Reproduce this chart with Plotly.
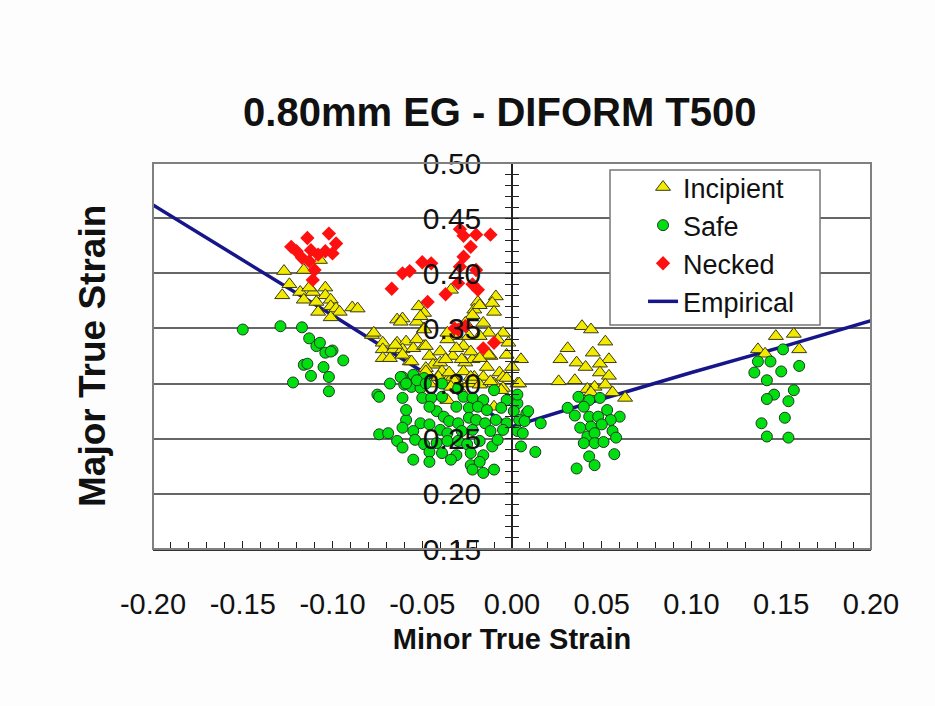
import plotly.graph_objects as go

# ---------------- data ----------------
empirical_x = [-0.20, -0.15, -0.10, -0.05, 0.00, 0.05, 0.10, 0.15, 0.20]
empirical_y = [0.462, 0.412, 0.362, 0.311, 0.261, 0.286, 0.310, 0.333, 0.357]

necked_x = [-0.114, -0.102, -0.098, -0.123, -0.112, -0.104, -0.100, -0.117, -0.113, -0.110, -0.111, -0.120, -0.108,
            -0.067, -0.061, -0.057, -0.050, -0.045, -0.047, -0.037, -0.030, -0.029, -0.027, -0.020, -0.012,
            -0.023, -0.027, -0.029, -0.020, -0.022, -0.019, -0.030, -0.026, -0.016, -0.010, -0.032]
necked_y = [0.432, 0.436, 0.427, 0.424, 0.421, 0.420, 0.418, 0.414, 0.411, 0.403, 0.394, 0.420, 0.417,
            0.386, 0.400, 0.402, 0.410, 0.409, 0.374, 0.381, 0.391, 0.440, 0.434, 0.435, 0.435,
            0.424, 0.415, 0.406, 0.403, 0.390, 0.385, 0.349, 0.352, 0.332, 0.337, 0.350]

incipient_x = [-0.107, -0.116, -0.127, -0.124, -0.128, -0.118, -0.116, -0.111, -0.104, -0.104, -0.109, -0.101,
               -0.108, -0.101, -0.098, -0.096, -0.101, -0.089, -0.086, -0.078, -0.113,
               -0.072, -0.072, -0.064, -0.061, -0.052, -0.049, -0.053, -0.049, -0.064, -0.059, -0.053, -0.066,
               -0.061, -0.055, -0.049, -0.072, -0.068, -0.057, -0.046, -0.044, -0.048, -0.040, -0.034, -0.019,
               -0.009, -0.011, -0.021, -0.022, -0.016, -0.005, -0.008, -0.013, -0.026, -0.012, -0.003, 0.005,
               0.003, -0.007, -0.014, -0.027, -0.031, -0.024, -0.036, -0.040, -0.033, -0.026, -0.022, -0.021,
               -0.010, -0.031, -0.036, -0.024, -0.046, -0.039, -0.010, -0.018, -0.002, -0.031, -0.023, -0.013,
               -0.028, 0.000, -0.005, 0.004, -0.016, -0.033, -0.062, -0.018, -0.065, -0.048, -0.036, -0.061,
               -0.056, -0.037, -0.018, -0.048, -0.041, -0.035, -0.027, -0.022, -0.018, -0.012, -0.032, -0.010,
               -0.005, -0.029, -0.034, -0.036, -0.006, -0.003, -0.023, -0.077, -0.051, -0.049,
               0.039, 0.044, 0.052, 0.031, 0.045, 0.027, 0.036, 0.041, 0.054, 0.049, 0.049, 0.054, 0.026,
               0.035, 0.042, 0.046, 0.052, 0.056, 0.044, 0.063,
               0.147, 0.157, 0.137, 0.141, 0.160]
incipient_y = [0.412, 0.403, 0.402, 0.390, 0.380, 0.383, 0.376, 0.383, 0.387, 0.380, 0.374, 0.376,
               0.365, 0.370, 0.368, 0.365, 0.360, 0.369, 0.368, 0.344, 0.387,
               0.337, 0.331, 0.358, 0.359, 0.370, 0.364, 0.356, 0.350, 0.337, 0.338, 0.340, 0.331,
               0.331, 0.332, 0.334, 0.323, 0.323, 0.320, 0.325, 0.317, 0.314, 0.329, 0.385, 0.374,
               0.379, 0.373, 0.367, 0.362, 0.355, 0.346, 0.340, 0.346, 0.355, 0.325, 0.326, 0.322,
               0.300, 0.310, 0.315, 0.334, 0.343, 0.343, 0.340, 0.319, 0.325, 0.319, 0.322, 0.306,
               0.300, 0.303, 0.303, 0.300, 0.300, 0.311, 0.365, 0.343, 0.337, 0.332, 0.329, 0.326,
               0.322, 0.315, 0.306, 0.300, 0.306, 0.306, 0.356, 0.371, 0.335, 0.334, 0.346, 0.326,
               0.320, 0.322, 0.323, 0.311, 0.306, 0.310, 0.311, 0.303, 0.299, 0.302, 0.302, 0.279,
               0.296, 0.294, 0.297, 0.285, 0.294, 0.305, 0.306, 0.346, 0.361, 0.349,
               0.352, 0.349, 0.338, 0.332, 0.328, 0.322, 0.319, 0.315, 0.322, 0.318, 0.310, 0.307, 0.302,
               0.303, 0.295, 0.297, 0.299, 0.292, 0.292, 0.287,
               0.343, 0.345, 0.331, 0.327, 0.331]

safe_x = [-0.150, -0.129, -0.117, -0.113, -0.109, -0.107, -0.104, -0.100, -0.094, -0.116, -0.114, -0.105,
          -0.112, -0.102, -0.122, -0.102, -0.101,
          -0.061, -0.055, -0.049, -0.060, -0.056, -0.051, -0.075, -0.061, -0.050, -0.045, -0.039, -0.030,
          -0.027, -0.022, -0.016, -0.003, 0.003, -0.031, -0.024, -0.019, -0.014, -0.006, 0.001, 0.008,
          -0.042, -0.038, -0.059, -0.051, -0.046, -0.035, -0.030, -0.024, -0.020, -0.015, -0.009, -0.003,
          0.004, 0.007, -0.061, -0.055, -0.040, -0.036, -0.028, -0.022, -0.012, -0.005, 0.003, 0.006,
          -0.074, -0.069, -0.064, -0.061, -0.054, -0.049, -0.042, -0.036, -0.030, -0.025, -0.018, -0.011,
          -0.008, 0.005, -0.046, -0.039, -0.031, -0.023, -0.016, -0.055, -0.046, -0.034, -0.023, -0.018,
          -0.022, -0.016, -0.010, -0.068, -0.010, 0.003, -0.039, -0.046, -0.059, 0.009, 0.016, 0.013,
          -0.074, -0.062, -0.059, -0.053, -0.048,
          0.037, 0.043, 0.049, 0.031, 0.035, 0.040, 0.053, 0.043, 0.048, 0.060, 0.055, 0.038, 0.044,
          0.050, 0.056, 0.042, 0.046, 0.058, 0.046, 0.051, 0.043, 0.057, 0.046, 0.036, 0.040,
          0.151, 0.137, 0.144, 0.160, 0.135, 0.150, 0.142, 0.157, 0.146, 0.142, 0.154, 0.152, 0.139,
          0.142, 0.154]
safe_y = [0.349, 0.352, 0.351, 0.341, 0.334, 0.337, 0.328, 0.330, 0.321, 0.317, 0.318, 0.315,
          0.307, 0.306, 0.301, 0.293, 0.329,
          0.306, 0.308, 0.305, 0.299, 0.297, 0.296, 0.290, 0.287, 0.287, 0.287, 0.288, 0.296,
          0.288, 0.287, 0.285, 0.285, 0.282, 0.279, 0.278, 0.279, 0.276, 0.278, 0.275, 0.273,
          0.275, 0.270, 0.267, 0.264, 0.263, 0.266, 0.264, 0.269, 0.267, 0.264, 0.267, 0.264,
          0.267, 0.266, 0.260, 0.257, 0.258, 0.255, 0.257, 0.258, 0.257, 0.258, 0.257, 0.255,
          0.254, 0.255, 0.248, 0.242, 0.249, 0.245, 0.246, 0.248, 0.248, 0.245, 0.248, 0.243,
          0.249, 0.243, 0.238, 0.237, 0.235, 0.237, 0.235, 0.231, 0.229, 0.231, 0.226, 0.229,
          0.222, 0.219, 0.222, 0.300, 0.294, 0.290, 0.300, 0.279, 0.276, 0.275, 0.264, 0.238,
          0.288, 0.306, 0.300, 0.303, 0.300,
          0.288, 0.285, 0.287, 0.278, 0.271, 0.279, 0.276, 0.270, 0.270, 0.270, 0.267, 0.260, 0.261,
          0.263, 0.257, 0.252, 0.255, 0.251, 0.246, 0.247, 0.234, 0.236, 0.226, 0.223, 0.246,
          0.331, 0.320, 0.320, 0.316, 0.310, 0.311, 0.303, 0.294, 0.290, 0.286, 0.284, 0.269, 0.264,
          0.252, 0.251]

x_tick_vals = [-0.20, -0.15, -0.10, -0.05, 0.00, 0.05, 0.10, 0.15, 0.20]
x_tick_text = ["-0.20", "-0.15", "-0.10", "-0.05", "0.00", "0.05", "0.10", "0.15", "0.20"]
y_tick_vals = [0.15, 0.20, 0.25, 0.30, 0.35, 0.40, 0.45, 0.50]
y_tick_text = ["0.15", "0.20", "0.25", "0.30", "0.35", "0.40", "0.45", "0.50"]

FONT = "Liberation Sans, Arial, sans-serif"

fig = go.Figure()

fig.add_trace(go.Scatter(
    x=empirical_x, y=empirical_y, mode="lines", name="Empirical",
    line=dict(color="#16168a", width=3.5), legendrank=4))
fig.add_trace(go.Scatter(
    x=incipient_x, y=incipient_y, mode="markers", name="Incipient",
    marker=dict(symbol="triangle-up", size=13, color="#f2ea00",
                line=dict(color="#3a3a10", width=1)), legendrank=1))
fig.add_trace(go.Scatter(
    x=safe_x, y=safe_y, mode="markers", name="Safe",
    marker=dict(symbol="circle", size=11, color="#00e010",
                line=dict(color="#1f3a1f", width=1)), legendrank=2))
fig.add_trace(go.Scatter(
    x=necked_x, y=necked_y, mode="markers", name="Necked",
    marker=dict(symbol="diamond", size=11, color="#ff1010",
                line=dict(color="#ff1010", width=0)), legendrank=3))
# helper trace so the secondary tick axis is drawn
fig.add_trace(go.Scatter(x=[None], y=[None], yaxis="y2", showlegend=False, hoverinfo="skip"))

fig.update_layout(
    width=935, height=706,
    margin=dict(l=153, r=64, t=163, b=157),
    paper_bgcolor="#fdfdfd", plot_bgcolor="#ffffff",
    font=dict(family=FONT, color="#111111"),
    title=dict(text="<b>0.80mm EG - DIFORM T500</b>", font=dict(size=40, family=FONT, color="#111"),
               x=0.483, xref="paper", xanchor="center", y=0.842, yref="container", yanchor="middle"),
    xaxis=dict(range=[-0.2, 0.2], tickvals=x_tick_vals, ticktext=x_tick_text,
               ticks="inside", ticklen=8, tickcolor="#222", tickwidth=1,
               minor=dict(dtick=0.01, tick0=0, ticks="inside", ticklen=7, tickcolor="#222", tickwidth=1),
               showgrid=False, zeroline=False, showline=True, linecolor="#333", linewidth=2,
               tickfont=dict(size=29), ticklabelstandoff=28,
               title=dict(text="<b>Minor True Strain</b>", font=dict(size=29), standoff=10)),
    yaxis=dict(range=[0.15, 0.50], tickvals=y_tick_vals, ticktext=y_tick_text,
               anchor="free", position=0.5, side="left",
               ticks="outside", ticklen=6, tickcolor="#222", tickwidth=1,
               minor=dict(dtick=0.01, tick0=0.15, ticks="outside", ticklen=6, tickcolor="#222", tickwidth=1),
               showgrid=True, gridcolor="#666666", gridwidth=2, zeroline=False,
               showline=True, linecolor="#222", linewidth=1.5,
               tickfont=dict(size=30), ticklabelstandoff=18),
    yaxis2=dict(range=[0.15, 0.50], overlaying="y", anchor="free", position=0.5, side="left",
                ticks="inside", ticklen=6, tickcolor="#222", tickwidth=1, dtick=0.01, tick0=0.15,
                showticklabels=False, showgrid=False, zeroline=False, showline=False),
    legend=dict(x=0.6825, y=1.0, xanchor="left", yanchor="top",
                bgcolor="rgba(0,0,0,0)", borderwidth=0,
                font=dict(size=27, family=FONT), tracegroupgap=0, traceorder="normal"),
    showlegend=True,
    annotations=[dict(text="<b>Major True Strain</b>", xref="paper", yref="paper",
                      x=-0.085, y=0.5, textangle=-90, showarrow=False,
                      font=dict(size=37, family=FONT, color="#111"),
                      xanchor="center", yanchor="middle")],
    shapes=[
        dict(type="rect", xref="paper", yref="paper", x0=0, x1=1, y0=0, y1=1,
             line=dict(color="#808080", width=2), layer="above"),
        dict(type="rect", xref="paper", yref="paper", x0=0.6365, x1=0.929, y0=0.580, y1=0.982,
             fillcolor="#ffffff", line=dict(color="#777777", width=1.5), layer="above"),
    ],
)

fig.write_html("out.html")
